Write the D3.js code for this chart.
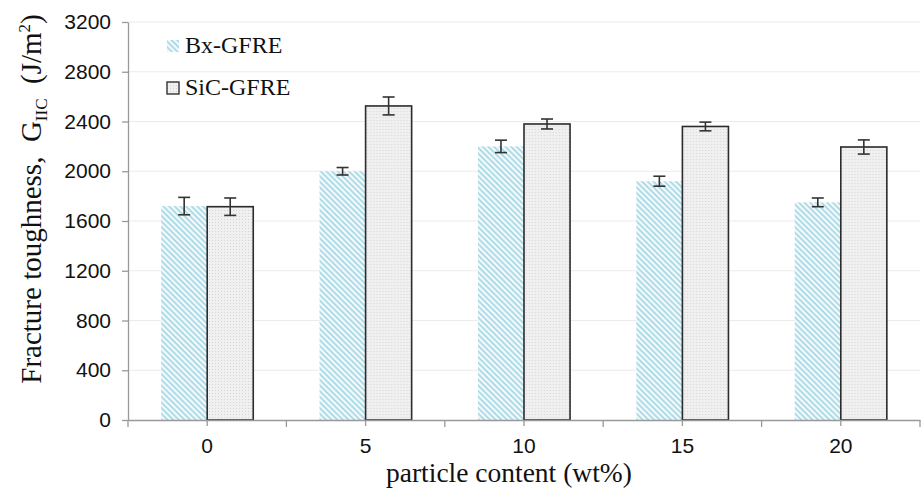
<!DOCTYPE html>
<html>
<head>
<meta charset="utf-8">
<script src="https://cdn.jsdelivr.net/npm/d3@7"></script>
<style>
  html, body { margin: 0; padding: 0; background: #fff; }
  svg { display: block; }
</style>
</head>
<body>
<div id="chart"></div>
<script>
// particle content (wt%)
const categories = ['0', '5', '10', '15', '20'];
const seriesNames = ['Bx-GFRE', 'SiC-GFRE'];
const bxValues = [1720, 2000, 2200, 1920, 1750];
const bxErrors = [70, 30, 50, 40, 35];
const sicValues = [1715, 2525, 2380, 2360, 2195];
const sicErrors = [70, 72, 40, 35, 57];
const yTicks = [0, 400, 800, 1200, 1600, 2000, 2400, 2800, 3200];

const width = 921;
const height = 488;
const margin = { top: 22, right: 1, bottom: 68, left: 128 };

const svg = d3.select('#chart').append('svg')
    .attr('width', width)
    .attr('height', height);

// patterns
const defs = svg.append('defs');
const hatch = defs.append('pattern')
    .attr('id', 'hatch')
    .attr('patternUnits', 'userSpaceOnUse')
    .attr('width', 4)
    .attr('height', 4)
    .attr('patternTransform', 'rotate(45)');
hatch.append('rect').attr('width', 4).attr('height', 4).attr('fill', '#f4fafc');
hatch.append('rect').attr('width', 4).attr('height', 1.7).attr('fill', '#a3d7e5');

const dots = defs.append('pattern')
    .attr('id', 'dots')
    .attr('patternUnits', 'userSpaceOnUse')
    .attr('width', 3)
    .attr('height', 3);
dots.append('rect').attr('width', 3).attr('height', 3).attr('fill', '#f0f0f0');
dots.append('rect').attr('width', 1).attr('height', 1).attr('fill', '#d6d6d6');

const x0 = d3.scaleBand()
    .domain(categories)
    .range([margin.left, width - margin.right])
    .padding(0);

const x1 = d3.scaleBand()
    .domain(seriesNames)
    .range([0, x0.bandwidth()])
    .paddingInner(0)
    .paddingOuter(0.72);

const y = d3.scaleLinear()
    .domain([0, 3200])
    .range([height - margin.bottom, margin.top]);

// gridlines
svg.append('g')
    .selectAll('line')
    .data(yTicks.filter(d => d > 0))
    .join('line')
    .attr('x1', margin.left)
    .attr('x2', width - margin.right)
    .attr('y1', d => y(d))
    .attr('y2', d => y(d))
    .attr('stroke', '#ebebeb')
    .attr('stroke-width', 1.2);

// bars
const rows = categories.map((c, i) => ({
    cat: c,
    bars: [
        { s: 'Bx-GFRE', v: bxValues[i], e: bxErrors[i] },
        { s: 'SiC-GFRE', v: sicValues[i], e: sicErrors[i] }
    ]
}));

const groups = svg.append('g')
    .selectAll('g')
    .data(rows)
    .join('g')
    .attr('transform', d => `translate(${x0(d.cat)},0)`);

groups.selectAll('rect')
    .data(d => d.bars)
    .join('rect')
    .attr('x', d => x1(d.s))
    .attr('y', d => y(d.v))
    .attr('width', x1.bandwidth())
    .attr('height', d => y(0) - y(d.v))
    .attr('fill', d => d.s === 'Bx-GFRE' ? 'url(#hatch)' : 'url(#dots)')
    .attr('stroke', d => d.s === 'Bx-GFRE' ? 'none' : '#2b2b2b')
    .attr('stroke-width', 1.6);

// error bars
const capW = 6;
const err = groups.selectAll('g.err')
    .data(d => d.bars)
    .join('g')
    .attr('class', 'err')
    .attr('stroke', '#333')
    .attr('stroke-width', 1.6);

err.append('line')
    .attr('x1', d => x1(d.s) + x1.bandwidth() / 2)
    .attr('x2', d => x1(d.s) + x1.bandwidth() / 2)
    .attr('y1', d => y(d.v + d.e))
    .attr('y2', d => y(d.v - d.e));
err.append('line')
    .attr('x1', d => x1(d.s) + x1.bandwidth() / 2 - capW)
    .attr('x2', d => x1(d.s) + x1.bandwidth() / 2 + capW)
    .attr('y1', d => y(d.v + d.e))
    .attr('y2', d => y(d.v + d.e));
err.append('line')
    .attr('x1', d => x1(d.s) + x1.bandwidth() / 2 - capW)
    .attr('x2', d => x1(d.s) + x1.bandwidth() / 2 + capW)
    .attr('y1', d => y(d.v - d.e))
    .attr('y2', d => y(d.v - d.e));

// y axis
const yAxis = svg.append('g')
    .attr('transform', `translate(${margin.left},0)`)
    .call(d3.axisLeft(y).tickValues(yTicks).tickFormat(d3.format('d'))
        .tickSize(6).tickPadding(11).tickSizeOuter(0));
yAxis.select('.domain').attr('stroke', '#999').attr('stroke-width', 1.3);
yAxis.selectAll('.tick line').attr('stroke', '#999').attr('stroke-width', 1.3);
yAxis.selectAll('.tick text')
    .attr('fill', '#111')
    .style('font', '21px "Liberation Sans", Arial, sans-serif');

// x axis
const xAxis = svg.append('g')
    .attr('transform', `translate(0,${y(0)})`)
    .call(d3.axisBottom(x0).tickSize(6).tickPadding(12).tickSizeOuter(0));
xAxis.select('.domain').attr('stroke', '#999').attr('stroke-width', 1.3);
xAxis.selectAll('.tick line').attr('stroke', '#999').attr('stroke-width', 1.3);
xAxis.selectAll('.tick text')
    .attr('fill', '#111')
    .style('font', '21px "Liberation Sans", Arial, sans-serif');

// category boundary ticks
const bounds = categories.map(c => x0(c)).concat([x0(categories[categories.length - 1]) + x0.bandwidth()]);
xAxis.append('g')
    .selectAll('line')
    .data(bounds)
    .join('line')
    .attr('x1', d => d)
    .attr('x2', d => d)
    .attr('y1', 0)
    .attr('y2', 7)
    .attr('stroke', '#999')
    .attr('stroke-width', 1.3);

// axis titles
svg.append('text')
    .attr('x', 386)
    .attr('y', 482)
    .style('font', '27.5px "Liberation Serif", "Times New Roman", serif')
    .attr('fill', '#111')
    .text('particle content\u00a0(wt%)');

const yt = svg.append('text')
    .attr('transform', `translate(41,199) rotate(-90)`)
    .attr('text-anchor', 'middle')
    .style('font', '29px "Liberation Serif", "Times New Roman", serif')
    .attr('fill', '#111');
yt.append('tspan').text('Fracture toughness,\u00a0\u00a0G');
yt.append('tspan').attr('dy', 6).style('font-size', '17px').text('IIC');
yt.append('tspan').attr('dy', -6).text('\u00a0\u00a0(J/m');
yt.append('tspan').attr('dy', -11).style('font-size', '17px').text('2');
yt.append('tspan').attr('dy', 11).text(')');

// legend
const legend = svg.append('g')
    .attr('transform', 'translate(167,40)');
const li = legend.selectAll('g')
    .data(seriesNames)
    .join('g')
    .attr('transform', (d, i) => `translate(0,${i * 42})`);
li.append('rect')
    .attr('width', 12)
    .attr('height', 12)
    .attr('fill', d => d === 'Bx-GFRE' ? 'url(#hatch)' : 'url(#dots)')
    .attr('stroke', d => d === 'Bx-GFRE' ? 'none' : '#333')
    .attr('stroke-width', 1.4);
li.append('text')
    .attr('x', 18)
    .attr('y', 13)
    .style('font', '24px "Liberation Serif", "Times New Roman", serif')
    .attr('fill', '#111')
    .text(d => d);
</script>
</body>
</html>
